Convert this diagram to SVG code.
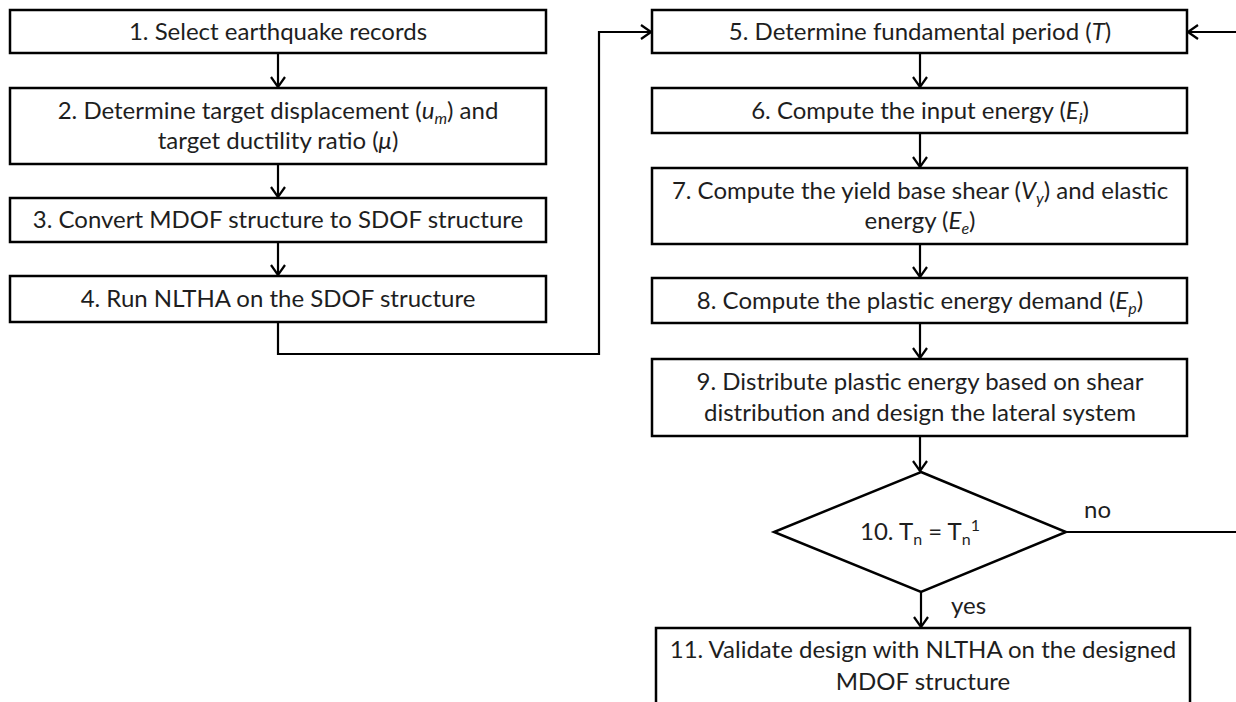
<svg xmlns="http://www.w3.org/2000/svg" width="1236" height="702" viewBox="0 0 1236 702">
<defs>
<style>
.box{fill:#fff;stroke:#000;stroke-width:2.5}
.ln{fill:none;stroke:#000;stroke-width:2.2}
text{font-family:Lato,"Liberation Sans",sans-serif;font-size:24px;fill:#1e1e1e;text-anchor:middle}
.lbl{text-anchor:start}
.i{font-style:italic}
</style>
<marker id="arr" viewBox="0 0 12 16" refX="11" refY="8" markerWidth="12" markerHeight="16" markerUnits="userSpaceOnUse" orient="auto">
<path d="M1,1 L11,8 L1,15" fill="none" stroke="#000" stroke-width="2.2"/>
</marker>
</defs>
<rect width="1236" height="702" fill="#fff"/>
<g id="connectors">
<line class="ln" x1="278" y1="53" x2="278" y2="87" marker-end="url(#arr)"/>
<line class="ln" x1="278" y1="164" x2="278" y2="197" marker-end="url(#arr)"/>
<line class="ln" x1="278" y1="242" x2="278" y2="275" marker-end="url(#arr)"/>
<path class="ln" d="M278,322 V354 H599 V32 H651" marker-end="url(#arr)"/>
<line class="ln" x1="920" y1="53" x2="920" y2="87" marker-end="url(#arr)"/>
<line class="ln" x1="920" y1="133" x2="920" y2="167" marker-end="url(#arr)"/>
<line class="ln" x1="920" y1="244" x2="920" y2="277" marker-end="url(#arr)"/>
<line class="ln" x1="920" y1="323" x2="920" y2="358" marker-end="url(#arr)"/>
<line class="ln" x1="920" y1="436" x2="920" y2="471" marker-end="url(#arr)"/>
<line class="ln" x1="921" y1="592" x2="921" y2="627" marker-end="url(#arr)"/>
<path class="ln" d="M1066,532 H1242 V32 H1188" marker-end="url(#arr)"/>
<text class="lbl" x="1084" y="518">no</text>
<text class="lbl" x="951" y="614">yes</text>
</g>
<g id="n1"><rect class="box" x="10" y="10" width="536" height="43"/><text x="278" y="40">1. Select earthquake records</text></g>
<g id="n2"><rect class="box" x="10" y="88" width="536" height="76"/>
<text x="278" y="119">2. Determine target displacement (<tspan class="i">u</tspan><tspan class="i" font-size="16" dy="5">m</tspan><tspan dy="-5">) and</tspan></text>
<text x="278" y="149">target ductility ratio (<tspan class="i">μ</tspan>)</text></g>
<g id="n3"><rect class="box" x="10" y="198" width="536" height="44"/><text x="278" y="228">3. Convert MDOF structure to SDOF structure</text></g>
<g id="n4"><rect class="box" x="10" y="276" width="536" height="46"/><text x="278" y="307">4. Run NLTHA on the SDOF structure</text></g>
<g id="n5"><rect class="box" x="652" y="10" width="535" height="43"/><text x="920" y="40">5. Determine fundamental period (<tspan class="i">T</tspan>)</text></g>
<g id="n6"><rect class="box" x="652" y="88" width="535" height="45"/><text x="920" y="119">6. Compute the input energy (<tspan class="i">E</tspan><tspan class="i" font-size="16" dy="5">i</tspan><tspan dy="-5">)</tspan></text></g>
<g id="n7"><rect class="box" x="652" y="168" width="535" height="76"/>
<text x="920" y="199">7. Compute the yield base shear (<tspan class="i">V</tspan><tspan class="i" font-size="16" dy="5">y</tspan><tspan dy="-5">) and elastic</tspan></text>
<text x="920" y="229">energy (<tspan class="i">E</tspan><tspan class="i" font-size="16" dy="5">e</tspan><tspan dy="-5">)</tspan></text></g>
<g id="n8"><rect class="box" x="652" y="278" width="535" height="45"/><text x="920" y="309">8. Compute the plastic energy demand (<tspan class="i">E</tspan><tspan class="i" font-size="16" dy="5">p</tspan><tspan dy="-5">)</tspan></text></g>
<g id="n9"><rect class="box" x="652" y="359" width="535" height="77"/>
<text x="920" y="390">9. Distribute plastic energy based on shear</text>
<text x="920" y="421">distribution and design the lateral system</text></g>
<g id="n10"><polygon class="box" points="921,472 1066,532 921,592 774,532"/>
<text x="920" y="540">10. T<tspan font-size="16" dy="5">n</tspan><tspan dy="-5"> = T</tspan><tspan font-size="16" dy="5">n</tspan><tspan font-size="16" dy="-14">1</tspan></text></g>
<g id="n11"><rect class="box" x="656" y="628" width="534" height="90"/>
<text x="923" y="658">11. Validate design with NLTHA on the designed</text>
<text x="923" y="690">MDOF structure</text></g>
</svg>
